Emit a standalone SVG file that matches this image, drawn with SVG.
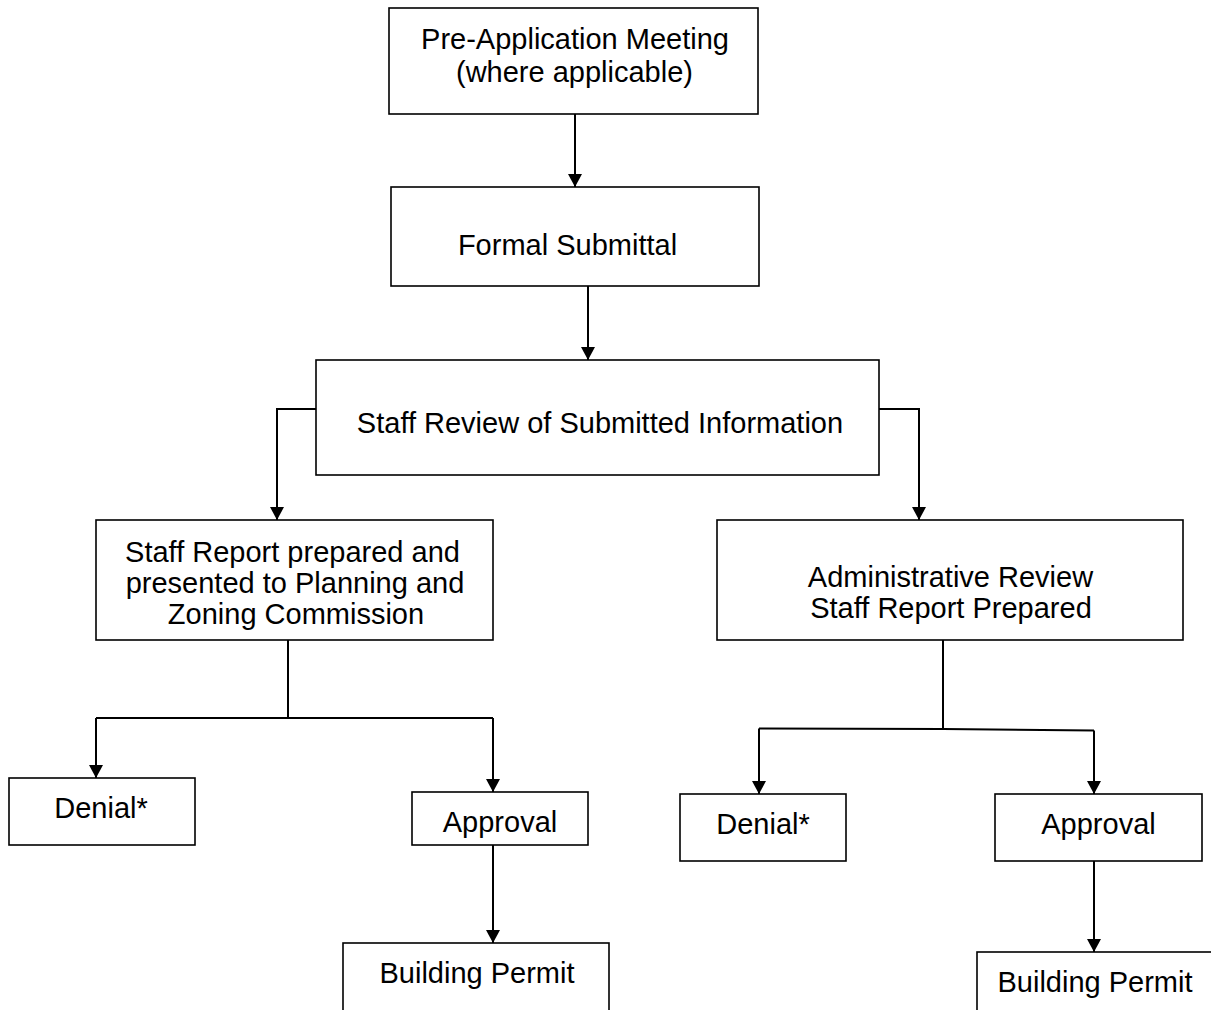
<svg xmlns="http://www.w3.org/2000/svg" width="1211" height="1010" viewBox="0 0 1211 1010">
<style>
.box{fill:#fff;stroke:#000;stroke-width:1.6}
.lbl{font-family:"Liberation Sans",Arial,sans-serif;font-size:29px;fill:#000;text-anchor:middle}
.con{fill:none;stroke:#000;stroke-width:2}
</style>
<defs>
<marker id="ah" markerUnits="userSpaceOnUse" markerWidth="14" markerHeight="15" refX="13" refY="7" orient="auto">
<path d="M0,0 L13,7 L0,14 z" fill="#000"/>
</marker>
</defs>
<rect width="1211" height="1010" fill="#fff"/>
<g id="connectors">
<line class="con" x1="575" y1="114" x2="575" y2="187" marker-end="url(#ah)"/>
<line class="con" x1="588" y1="286" x2="588" y2="360" marker-end="url(#ah)"/>
<polyline class="con" points="316,409 277,409 277,520" marker-end="url(#ah)"/>
<polyline class="con" points="879,409 919,409 919,520" marker-end="url(#ah)"/>
<line class="con" x1="288" y1="640" x2="288" y2="718"/>
<line class="con" x1="96" y1="718" x2="493" y2="718"/>
<line class="con" x1="96" y1="718" x2="96" y2="778" marker-end="url(#ah)"/>
<line class="con" x1="493" y1="718" x2="493" y2="792" marker-end="url(#ah)"/>
<line class="con" x1="493" y1="845" x2="493" y2="943" marker-end="url(#ah)"/>
<line class="con" x1="943" y1="640" x2="943" y2="729"/>
<polyline class="con" points="759,728.5 943,729 1094,730.5"/>
<line class="con" x1="759" y1="728.5" x2="759" y2="794" marker-end="url(#ah)"/>
<line class="con" x1="1094" y1="730.5" x2="1094" y2="794" marker-end="url(#ah)"/>
<line class="con" x1="1094" y1="861" x2="1094" y2="952" marker-end="url(#ah)"/>
</g>
<g id="pre-application">
<rect class="box" x="389" y="8" width="369" height="106"/>
<text class="lbl" x="575" y="49">Pre-Application Meeting</text>
<text class="lbl" x="574.5" y="82">(where applicable)</text>
</g>
<g id="formal-submittal">
<rect class="box" x="391" y="187" width="368" height="99"/>
<text class="lbl" x="567.5" y="255">Formal Submittal</text>
</g>
<g id="staff-review">
<rect class="box" x="316" y="360" width="563" height="115"/>
<text class="lbl" x="600" y="433">Staff Review of Submitted Information</text>
</g>
<g id="staff-report">
<rect class="box" x="96" y="520" width="397" height="120"/>
<text class="lbl" x="292.5" y="562">Staff Report prepared and</text>
<text class="lbl" x="295" y="593">presented to Planning and</text>
<text class="lbl" x="296" y="624">Zoning Commission</text>
</g>
<g id="admin-review">
<rect class="box" x="717" y="520" width="466" height="120"/>
<text class="lbl" x="950.5" y="587">Administrative Review</text>
<text class="lbl" x="951" y="618">Staff Report Prepared</text>
</g>
<g id="denial-left">
<rect class="box" x="9" y="778" width="186" height="67"/>
<text class="lbl" x="101" y="818">Denial*</text>
</g>
<g id="approval-left">
<rect class="box" x="412" y="792" width="176" height="53"/>
<text class="lbl" x="500" y="832">Approval</text>
</g>
<g id="permit-left">
<rect class="box" x="343" y="943" width="266" height="90"/>
<text class="lbl" x="477" y="983">Building Permit</text>
</g>
<g id="denial-right">
<rect class="box" x="680" y="794" width="166" height="67"/>
<text class="lbl" x="763" y="834">Denial*</text>
</g>
<g id="approval-right">
<rect class="box" x="995" y="794" width="207" height="67"/>
<text class="lbl" x="1098.5" y="834">Approval</text>
</g>
<g id="permit-right">
<rect class="box" x="977" y="952" width="240" height="90"/>
<text class="lbl" x="1095" y="992">Building Permit</text>
</g>
</svg>
